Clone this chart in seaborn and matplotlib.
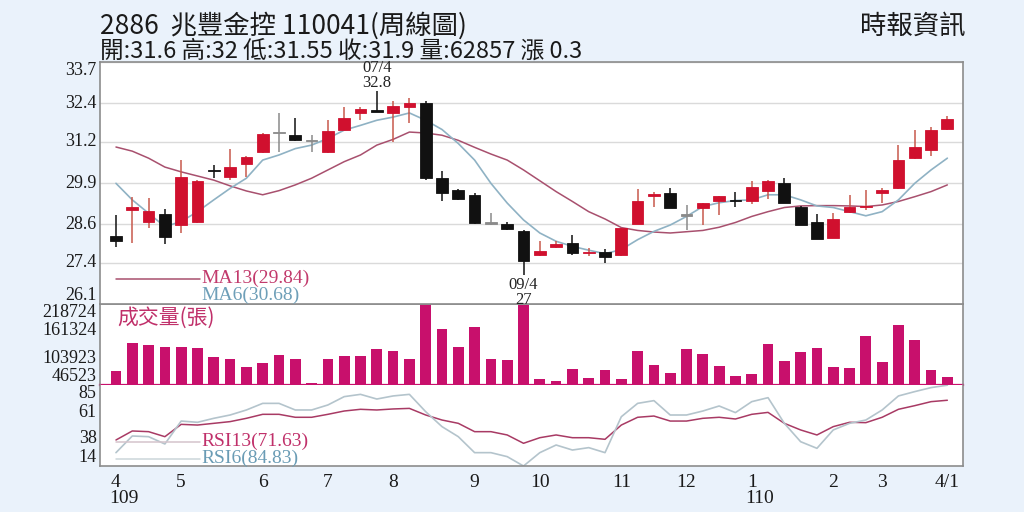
import numpy as np
import pandas as pd
import seaborn as sns
import matplotlib.pyplot as plt
import matplotlib.transforms as mtransforms
from matplotlib.ticker import FixedLocator, NullFormatter

# 兆豐金 週線資料
opens = [28.25, 29.06, 28.69, 28.93, 28.57, 28.69, 30.30, 30.08, 30.49, 30.86,
         31.48, 31.40, 31.24, 30.86, 31.58, 32.10, 32.17, 32.10, 32.28, 32.41,
         30.05, 29.68, 29.53, 28.64, 28.62, 28.38, 27.63, 27.89, 28.03, 27.71,
         27.72, 27.63, 28.61, 29.52, 29.58, 28.90, 29.11, 29.35, 29.36, 29.35,
         29.66, 29.91, 29.16, 28.67, 28.17, 28.98, 29.14, 29.60, 29.73, 30.70,
         30.93, 31.60]
closes = [28.07, 29.15, 29.03, 28.19, 30.08, 29.97, 30.28, 30.41, 30.72, 31.45,
          31.48, 31.24, 31.24, 31.52, 31.95, 32.21, 32.15, 32.32, 32.41, 30.05,
          29.60, 29.39, 28.64, 28.64, 28.45, 27.46, 27.78, 27.99, 27.70, 27.73,
          27.58, 28.48, 29.32, 29.54, 29.11, 28.90, 29.27, 29.49, 29.34, 29.77,
          29.97, 29.28, 28.59, 28.15, 28.77, 29.16, 29.18, 29.68, 30.62, 31.02,
          31.56, 31.90]
highs = [28.88, 29.47, 29.44, 29.08, 30.62, 30.00, 30.46, 30.98, 30.75, 31.47,
         32.10, 31.95, 31.40, 31.87, 32.28, 32.28, 32.80, 32.47, 32.58, 32.49,
         30.27, 29.70, 29.58, 28.97, 28.69, 28.41, 28.09, 28.07, 28.28, 27.86,
         27.84, 28.50, 29.70, 29.63, 29.73, 29.21, 29.28, 29.50, 29.63, 29.97,
         29.99, 30.05, 29.18, 28.93, 28.95, 29.53, 29.68, 29.73, 31.09, 31.58,
         31.66, 32.00]
lows = [27.89, 28.03, 28.48, 27.99, 28.33, 28.65, 30.05, 29.99, 30.10, 30.84,
        30.86, 31.22, 30.86, 30.85, 31.57, 31.87, 32.12, 31.19, 31.78, 29.99,
        29.34, 29.36, 28.61, 28.57, 28.43, 27.00, 27.62, 27.86, 27.65, 27.60,
        27.39, 27.62, 28.60, 29.16, 29.10, 28.43, 28.59, 28.90, 29.16, 29.24,
        29.39, 29.27, 28.57, 28.14, 28.16, 28.97, 29.06, 29.27, 29.72, 30.64,
        30.75, 31.55]
ma13 = [31.03, 30.90, 30.68, 30.40, 30.25, 30.12, 29.99, 29.81, 29.65, 29.53,
        29.66, 29.84, 30.05, 30.31, 30.57, 30.78, 31.09, 31.27, 31.50, 31.47,
        31.40, 31.24, 31.02, 30.81, 30.62, 30.31, 29.97, 29.63, 29.32, 29.00,
        28.77, 28.50, 28.41, 28.36, 28.33, 28.37, 28.41, 28.51, 28.66, 28.85,
        29.00, 29.13, 29.18, 29.19, 29.19, 29.18, 29.16, 29.21, 29.32, 29.47,
        29.63, 29.84]
ma6 = [29.89, 29.37, 28.95, 28.53, 28.69, 29.00, 29.37, 29.73, 30.05, 30.62,
       30.78, 30.98, 31.09, 31.30, 31.56, 31.71, 31.87, 31.97, 32.10, 31.87,
       31.58, 31.14, 30.62, 29.89, 29.27, 28.74, 28.33, 28.07, 27.91, 27.79,
       27.68, 27.81, 28.12, 28.38, 28.58, 28.85, 29.16, 29.28, 29.35, 29.37,
       29.53, 29.53, 29.37, 29.18, 29.13, 29.00, 28.87, 29.00, 29.37, 29.89,
       30.31, 30.68]
volume = [76900, 135200, 131600, 126700, 126700, 125200, 106700, 101800, 85400, 93900,
          109700, 101200, 50100, 101800, 108200, 108200, 122400, 119400, 102400, 218724,
          166200, 127300, 170500, 101200, 99700, 217500, 59300, 55000, 79900, 60800,
          77800, 58600, 118800, 88400, 71400, 123100, 111800, 86300, 65000, 69300,
          134300, 97500, 116700, 125200, 84200, 82700, 151300, 94800, 174100, 142800,
          77800, 62857]
rsi13 = [36.8, 44.7, 44.1, 39.7, 50.5, 49.9, 51.4, 52.9, 55.8, 59.3,
         59.3, 56.7, 56.7, 59.3, 62.2, 63.7, 63.1, 64.0, 64.5, 58.7,
         54.3, 51.4, 44.1, 44.1, 41.2, 33.9, 38.8, 41.2, 38.8, 38.8,
         37.4, 49.9, 56.7, 57.8, 53.4, 53.4, 55.8, 56.7, 55.2, 59.3,
         61.0, 51.4, 45.6, 41.2, 48.5, 52.3, 52.0, 56.7, 63.7, 66.9,
         70.4, 71.63]
rsi6 = [25.7, 40.3, 39.7, 33.3, 53.4, 52.3, 55.8, 58.7, 63.1, 68.9,
        68.9, 63.1, 63.1, 67.5, 74.8, 76.8, 72.7, 75.4, 76.8, 61.6,
        48.5, 39.7, 25.7, 25.7, 22.2, 14.0, 25.7, 32.4, 28.0, 30.1,
        25.7, 57.2, 68.9, 71.3, 58.7, 58.7, 62.2, 66.6, 60.8, 70.4,
        73.9, 51.4, 35.3, 29.5, 45.6, 51.4, 54.3, 63.1, 75.4, 79.2,
        82.7, 84.83]

price_ticks = [26.1, 27.4, 28.6, 29.9, 31.2, 32.4, 33.7]
vol_ticks = [46523, 103923, 161324, 218724]
rsi_ticks = [14, 38, 61, 85]
month_pos = [0, 4, 9, 13, 17, 22, 26, 31, 35, 39, 44, 47, 51]
month_labels = ['4', '5', '6', '7', '8', '9', '10', '11', '12', '1', '2', '3', '4/1']
year_pos = [0, 39]
year_labels = ['109', '110']

bg = '#eaf2fb'
red = '#d0102e'
magenta = '#c8106c'
ma13_c = '#a8506e'
ma6_c = '#8fb2c4'
rsi13_c = '#a83a64'
rsi6_c = '#b4c4cc'
serif = ['Liberation Serif', 'Noto Sans CJK TC', 'DejaVu Sans']
cjk = ['Noto Sans CJK TC', 'DejaVu Sans']

sns.set_style('white')
plt.rcParams['font.family'] = serif

wk = np.arange(len(closes))
df = pd.DataFrame({'wk': wk, 'open': opens, 'close': closes, 'high': highs, 'low': lows,
                   'ma13': ma13, 'ma6': ma6, 'vol': volume, 'rsi13': rsi13, 'rsi6': rsi6})

fig = plt.figure(figsize=(10.24, 5.12), dpi=100, facecolor=bg)
L, W = 100 / 1024, 863 / 1024
ax_p = fig.add_axes([L, 1 - 304 / 512, W, 242 / 512])
ax_v = fig.add_axes([L, 1 - 385 / 512, W, 81 / 512])
ax_r = fig.add_axes([L, 1 - 466 / 512, W, 81 / 512])
ax_p.set_zorder(3)
xlim = (-0.98, 51.96)

# ---- 價格 K 線 ----
diff = df['close'] - df['open']
body_c = np.where(diff > 0.005, red, np.where(diff < -0.005, '#111111', '#8a8a8a'))
wick_c = np.where(diff > 0.005, '#c8584c', np.where(diff < -0.005, '#111111', '#8a8a8a'))
ax_p.vlines(df['wk'], df['low'], df['high'], colors=wick_c, lw=1.1, zorder=3)
body_h = np.maximum(diff.abs(), 0.05)
body_b = np.minimum(df['open'], df['close']) - (body_h - diff.abs()) / 2
ax_p.bar(df['wk'], body_h, bottom=body_b, width=0.72, color=body_c,
         edgecolor=body_c, lw=0.6, zorder=4)
sns.lineplot(data=df, x='wk', y='ma13', ax=ax_p, color=ma13_c, lw=1.1, zorder=2)
sns.lineplot(data=df, x='wk', y='ma6', ax=ax_p, color=ma6_c, lw=1.2, zorder=2)

ax_p.set_xlim(*xlim)
ax_p.set_ylim(price_ticks[0], price_ticks[-1])
ax_p.yaxis.set_major_locator(FixedLocator(price_ticks))
ax_p.yaxis.grid(True, color='#dadada', lw=1)
ax_p.set_axisbelow(True)

hi_i = int(np.argmax(highs))
lo_i = int(np.argmin(lows))
ax_p.annotate('07/4\n32.8', xy=(hi_i, highs[hi_i]), xytext=(0, 0), textcoords='offset points',
              ha='center', va='bottom', fontsize=12, linespacing=0.9, color='#222222',
              annotation_clip=False, zorder=10)
ax_p.annotate('09/4\n27', xy=(lo_i, lows[lo_i]), xytext=(0, -1), textcoords='offset points',
              ha='center', va='top', fontsize=12, linespacing=0.9, color='#222222',
              annotation_clip=False, zorder=10)

ax_p.plot([0.0185, 0.116], [0.105, 0.105], transform=ax_p.transAxes, color=ma13_c, lw=1.1)
ax_p.text(0.117, 0.105, 'MA13(29.84)', transform=ax_p.transAxes, color='#c23a6c',
          fontsize=14, va='center', ha='left')
ax_p.text(0.117, 0.035, 'MA6(30.68)', transform=ax_p.transAxes, color='#6e9fb8',
          fontsize=14, va='center', ha='left')

# ---- 成交量 ----
sns.barplot(data=df, x='wk', y='vol', ax=ax_v, native_scale=True, color=magenta,
            width=0.66, saturation=1, edgecolor=magenta, lw=0)
ax_v.set_xlim(*xlim)
ax_v.set_ylim(vol_ticks[0], vol_ticks[-1])
ax_v.text(0.02, 0.83, '成交量(張)', transform=ax_v.transAxes, color='#c0306a',
          fontsize=15, va='center', ha='left', family=cjk)

# ---- RSI ----
sns.lineplot(data=df, x='wk', y='rsi13', ax=ax_r, color=rsi13_c, lw=1.1)
sns.lineplot(data=df, x='wk', y='rsi6', ax=ax_r, color=rsi6_c, lw=1.2)
ax_r.set_xlim(*xlim)
ax_r.set_ylim(rsi_ticks[0], rsi_ticks[-1])
ax_r.plot([0.0185, 0.116], [0.30, 0.30], transform=ax_r.transAxes, color='#d4c4cc', lw=1.1)
ax_r.plot([0.0185, 0.116], [0.09, 0.09], transform=ax_r.transAxes, color='#ccd6da', lw=1.1)
ax_r.text(0.117, 0.30, 'RSI13(71.63)', transform=ax_r.transAxes, color='#c0306a',
          fontsize=14, va='center', ha='left')
ax_r.text(0.117, 0.09, 'RSI6(84.83)', transform=ax_r.transAxes, color='#6a9cb5',
          fontsize=14, va='center', ha='left')

# ---- 座標軸樣式 ----
for ax, ticks, fmt in [(ax_p, price_ticks, '{:g}'), (ax_v, vol_ticks, '{:d}'), (ax_r, rsi_ticks, '{:d}')]:
    ax.set_xlabel('')
    ax.set_ylabel('')
    ax.set_facecolor('white')
    ax.yaxis.set_major_locator(FixedLocator(ticks))
    ax.yaxis.set_major_formatter(NullFormatter())
    ax.tick_params(axis='y', length=0)
    trans = mtransforms.blended_transform_factory(ax.transAxes, ax.transData)
    for k, t in enumerate(ticks):
        va = 'bottom' if k == 0 else ('top' if k == len(ticks) - 1 else 'center')
        ax.text(-0.004, t, fmt.format(t), transform=trans, ha='right', va=va,
                fontsize=13, color='#1a1a1a', clip_on=False)
    for s in ax.spines.values():
        s.set_color('#8c8c8c')
        s.set_linewidth(1.2)

for ax in (ax_p, ax_v):
    ax.tick_params(axis='x', which='both', length=0, labelbottom=False)
    ax.xaxis.set_major_formatter(NullFormatter())

ax_v.spines['bottom'].set_color(magenta)
ax_v.spines['bottom'].set_linewidth(1.6)
ax_r.spines['top'].set_visible(False)

ax_r.xaxis.set_major_locator(FixedLocator(month_pos))
ax_r.set_xticklabels(month_labels)
ax_r.xaxis.set_minor_locator(FixedLocator(list(wk)))
ax_r.tick_params(axis='x', which='major', length=5, width=1, color='#777777',
                 direction='out', pad=1, labelsize=14, labelcolor='#1a1a1a')
ax_r.tick_params(axis='x', which='minor', length=2.5, width=1, color='#999999', direction='out')
ytrans = mtransforms.blended_transform_factory(ax_r.transData, ax_r.transAxes)
for p, lab in zip(year_pos, year_labels):
    ax_r.text(p - 0.4, -0.40, lab, transform=ytrans, ha='left', va='center',
              fontsize=14, color='#1a1a1a', clip_on=False)

# ---- 標題 ----
fig.text(100 / 1024, 1 - 26 / 512, '2886  兆豐金控 110041(周線圖)', family=cjk,
         fontsize=19, ha='left', va='center', color='#1a1a1a')
fig.text(100 / 1024, 1 - 51 / 512, '開:31.6 高:32 低:31.55 收:31.9 量:62857 漲 0.3', family=cjk,
         fontsize=17, ha='left', va='center', color='#1a1a1a')
fig.text(965 / 1024, 1 - 26 / 512, '時報資訊', family=cjk,
         fontsize=19, ha='right', va='center', color='#1a1a1a')

fig.savefig('out.png', dpi=100, facecolor=bg)
